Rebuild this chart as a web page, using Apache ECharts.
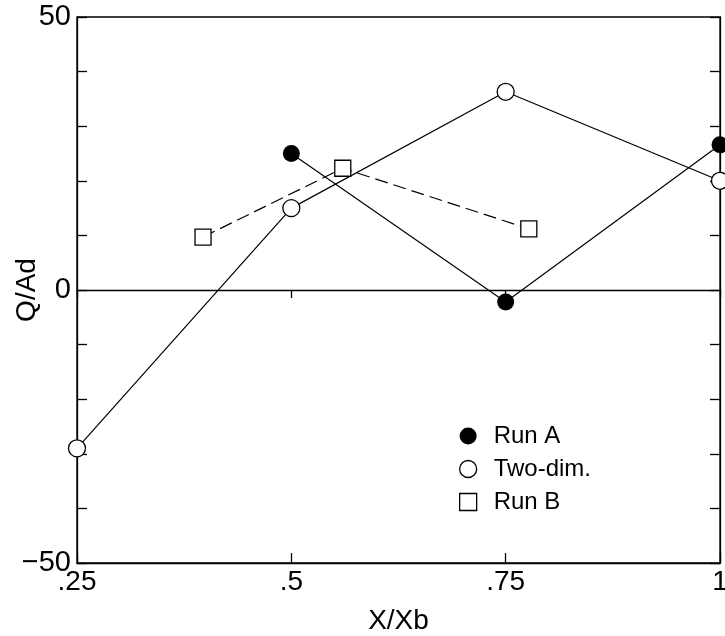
<!DOCTYPE html>
<html>
<head>
<meta charset="utf-8">
<script src="https://cdn.jsdelivr.net/npm/echarts@6/dist/echarts.min.js"></script>
<style>
  html, body { margin: 0; padding: 0; background: #fff; }
  #main { width: 725px; height: 636px; }
</style>
</head>
<body>
<div id="main"></div>
<script>
// data
var runA = [[0.5, 25], [0.75, -2.2], [1.0, 26.6]];
var twoDim = [[0.25, -29], [0.5, 15], [0.75, 36.3], [1.0, 20]];
var runB = [[0.397, 9.7], [0.56, 22.3], [0.777, 11.2]];
var yLabels = [-50, 0, 50];
var xLabels = {'0.25': '.25', '0.5': '.5', '0.75': '.75', '1': '1'};

var font = 'Liberation Sans';
var chart = echarts.init(document.getElementById('main'));

chart.setOption({
  animation: false,
  backgroundColor: '#fff',
  textStyle: { fontFamily: font },
  grid: {
    left: 77, right: 5, top: 17, bottom: 73,
    outerBoundsMode: 'none', containLabel: false,
    show: true, borderColor: '#000', borderWidth: 1.3
  },
  legend: {
    orient: 'vertical',
    left: 454, top: 419,
    itemWidth: 17, itemHeight: 17, itemGap: 9,
    textStyle: { fontSize: 24, color: '#000', fontFamily: font, padding: [0, 0, 0, 12] },
    data: [
      { name: 'Run A', icon: 'circle', itemStyle: { color: '#000', borderWidth: 0 } },
      { name: 'Two-dim.', icon: 'circle', itemStyle: { color: '#fff', borderColor: '#000', borderWidth: 1.3 } },
      { name: 'Run B', icon: 'rect', itemStyle: { color: '#fff', borderColor: '#000', borderWidth: 1.3 } }
    ]
  },
  xAxis: [{
    type: 'value', min: 0.25, max: 1, interval: 0.25,
    position: 'bottom',
    name: 'X/Xb', nameLocation: 'middle', nameGap: 44, nameMoveOverlap: false,
    nameTextStyle: { fontSize: 28, color: '#000' },
    axisLine: { onZero: false, lineStyle: { color: '#000', width: 1.3 } },
    axisTick: { inside: true, length: 10, lineStyle: { color: '#000', width: 1.3 } },
    axisLabel: { fontSize: 28, color: '#000', margin: 5,
      formatter: function (v) { return xLabels[String(v)] || ''; } },
    splitLine: { show: false }
  }, {
    type: 'value', min: 0.25, max: 1, interval: 0.25,
    position: 'top',
    axisLine: { onZero: true, lineStyle: { color: '#000', width: 1.3 } },
    axisTick: { inside: true, length: 8, lineStyle: { color: '#000', width: 1.3 } },
    axisLabel: { show: false },
    splitLine: { show: false }
  }],
  yAxis: [{
    type: 'value', min: -50, max: 50, interval: 10,
    name: 'Q/Ad', nameLocation: 'middle', nameGap: 36, nameRotate: 90, nameMoveOverlap: false,
    nameTextStyle: { fontSize: 28, color: '#000' },
    axisLine: { lineStyle: { color: '#000', width: 1.3 } },
    axisTick: { inside: true, length: 10, lineStyle: { color: '#000', width: 1.3 } },
    axisLabel: { fontSize: 29, color: '#000', margin: 6,
      formatter: function (v) {
        if (yLabels.indexOf(v) < 0) return '';
        return v < 0 ? '\u2212' + (-v) : String(v);
      } },
    splitLine: { show: false }
  }, {
    type: 'value', min: -50, max: 50, interval: 10,
    position: 'right',
    axisLine: { lineStyle: { color: '#000', width: 1.3 } },
    axisTick: { inside: true, length: 10, lineStyle: { color: '#000', width: 1.3 } },
    axisLabel: { show: false },
    splitLine: { show: false }
  }],
  series: [{
    name: 'Two-dim.', type: 'line', data: twoDim,
    symbol: 'circle', symbolSize: 17, clip: false, z: 3,
    lineStyle: { color: '#000', width: 1.2 },
    itemStyle: { color: '#fff', borderColor: '#000', borderWidth: 1.3 }
  }, {
    name: 'Run A', type: 'line', data: runA,
    symbol: 'circle', symbolSize: 17, clip: false, z: 4,
    lineStyle: { color: '#000', width: 1.2 },
    itemStyle: { color: '#000', borderColor: '#000', borderWidth: 0 }
  }, {
    name: 'Run B', type: 'line', data: runB,
    symbol: 'rect', symbolSize: 16, clip: false, z: 3,
    lineStyle: { color: '#000', width: 1.2, type: [13, 6] },
    itemStyle: { color: '#fff', borderColor: '#000', borderWidth: 1.3 }
  }]
});
</script>
</body>
</html>
